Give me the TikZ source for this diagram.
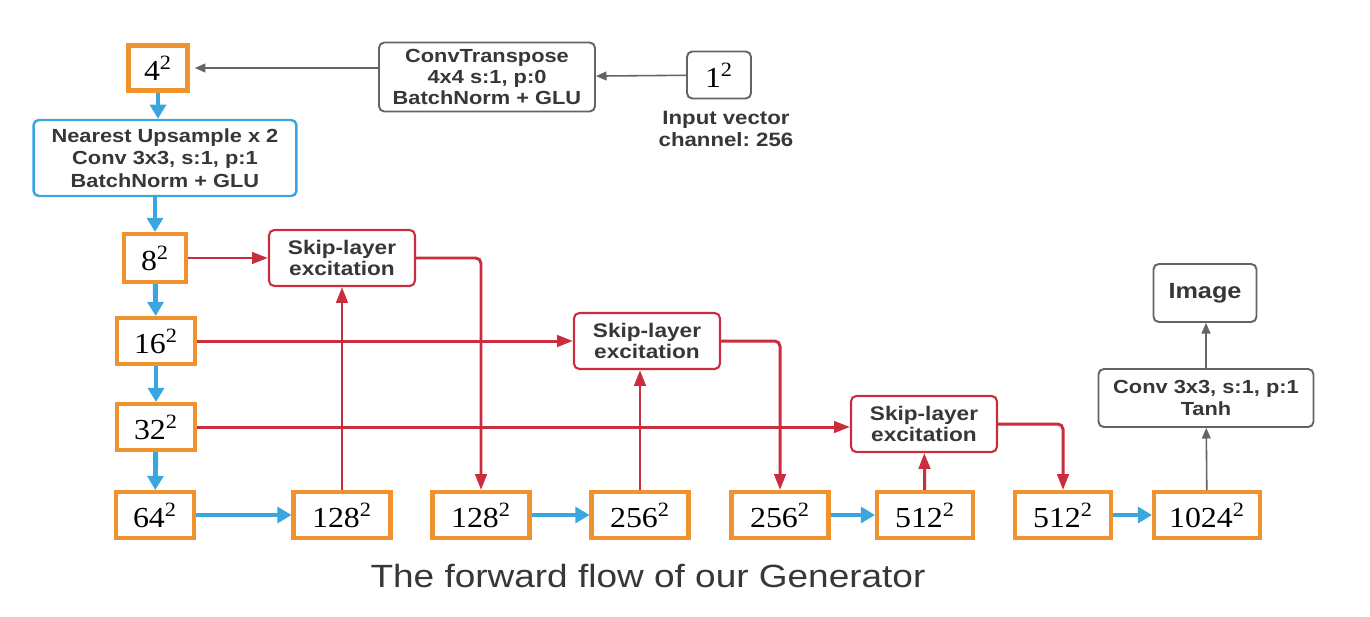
\documentclass[tikz,border=0pt]{standalone}
\usepackage{fontspec}
\setmainfont{Liberation Serif}[FakeStretch=1.1]
\newfontfamily\labelfont{Liberation Sans}[FakeStretch=1.15]
\usetikzlibrary{arrows.meta, positioning}
\definecolor{featOrange}{RGB}{240,146,46}
\definecolor{flowBlue}{RGB}{58,166,224}
\definecolor{skipRed}{RGB}{201,45,62}
\definecolor{opGray}{RGB}{100,100,100}
\definecolor{textGray}{RGB}{55,55,55}
\frenchspacing

\begin{document}
\begin{tikzpicture}[x=0.02cm, y=-0.02cm,
    featbox/.style={rectangle, draw=featOrange, line width=2.3pt, fill=white, minimum height=0.92cm, inner sep=0pt, font=\fontsize{16.5}{19}\selectfont},
    opbox/.style={rectangle, rounded corners=3pt, draw=opGray, line width=1.1pt, align=center, text=textGray},
    upbox/.style={rectangle, rounded corners=3pt, draw=flowBlue, line width=1.4pt, align=center, text=textGray, minimum width=5.26cm, minimum height=1.52cm, font=\labelfont\bfseries\fontsize{10.8}{12.8}\selectfont},
    skipbox/.style={rectangle, rounded corners=3pt, draw=skipRed, line width=1.2pt, align=center, text=textGray, minimum width=2.92cm, minimum height=1.12cm, font=\labelfont\bfseries\fontsize{11.2}{11.9}\selectfont},
    blueflow/.style={draw=flowBlue, line width=2.8pt, -{Triangle[length=8pt,width=9pt]}},
    redflow/.style={draw=skipRed, line width=1.7pt, rounded corners=3pt, -{Triangle[length=9pt,width=6.5pt]}},
    grayflow/.style={draw=opGray, line width=0.9pt, -{Triangle[length=6pt,width=5pt]}}
  ]
    \useasboundingbox (0,0) rectangle (1370,616);

    % Input and first layer
    \node[opbox, minimum width=1.28cm, minimum height=0.94cm, font=\fontsize{16.5}{19}\selectfont, text=black] (in1) at (719,75) {1\textsuperscript{2}};
    \node[align=center, text=textGray, font=\labelfont\bfseries\fontsize{11}{12.5}\selectfont] (inlab) at (726,129) {Input vector\\channel: 256};
    \node[opbox, minimum width=4.32cm, minimum height=1.38cm, font=\labelfont\bfseries\fontsize{10.8}{11.9}\selectfont] (convT) at (487,77) {ConvTranspose\\4x4 s:1, p:0\\BatchNorm + GLU};
    \node[featbox, minimum width=1.18cm, minimum height=0.9cm] (f4) at (158,68) {4\textsuperscript{2}};

    % Upsampling block
    \node[upbox] (ups) at (165,158) {Nearest Upsample x 2\\Conv 3x3, s:1, p:1\\BatchNorm + GLU};

    % Left column
    \node[featbox, minimum width=1.24cm, minimum height=0.96cm] (f8) at (155,258) {8\textsuperscript{2}};
    \node[featbox, minimum width=1.56cm] (f16) at (156,341) {16\textsuperscript{2}};
    \node[featbox, minimum width=1.56cm] (f32) at (156,427) {32\textsuperscript{2}};
    \node[featbox, minimum width=1.56cm] (f64) at (155,515) {64\textsuperscript{2}};

    % Bottom row
    \node[featbox, minimum width=1.94cm] (f128a) at (342,515) {128\textsuperscript{2}};
    \node[featbox, minimum width=1.94cm] (f128b) at (481,515) {128\textsuperscript{2}};
    \node[featbox, minimum width=1.94cm] (f256a) at (640,515) {256\textsuperscript{2}};
    \node[featbox, minimum width=1.94cm] (f256b) at (780,515) {256\textsuperscript{2}};
    \node[featbox, minimum width=1.92cm] (f512a) at (925,515) {512\textsuperscript{2}};
    \node[featbox, minimum width=1.92cm] (f512b) at (1063,515) {512\textsuperscript{2}};
    \node[featbox, minimum width=2.12cm] (f1024) at (1207,515) {1024\textsuperscript{2}};

    % Skip-layer excitation blocks
    \node[skipbox] (skip1) at (342,258) {Skip-layer\\excitation};
    \node[skipbox] (skip2) at (647,341) {Skip-layer\\excitation};
    \node[skipbox] (skip3) at (924,424) {Skip-layer\\excitation};

    % Output head
    \node[opbox, minimum width=4.3cm, minimum height=1.16cm, font=\labelfont\bfseries\fontsize{10.8}{13}\selectfont] (tanh) at (1206,398) {Conv 3x3, s:1, p:1\\Tanh};
    \node[opbox, minimum width=2.06cm, minimum height=1.16cm, font=\labelfont\bfseries\fontsize{12.5}{15}\selectfont] (img) at (1205,293) {Image};

    % Title
    \node[text=textGray, font=\labelfont\fontsize{18.3}{22}\selectfont] (title) at (648,576) {The forward flow of our Generator};

    % Gray connectors
    \draw[grayflow] (in1) -- (convT);
    \draw[grayflow, shorten >=3pt] (convT.west |- f4.east) -- (f4.east);
    \draw[grayflow] (f1024) -- (tanh);
    \draw[grayflow] (tanh.north) -- (tanh.north |- img.south);

    % Blue main flow
    \draw[blueflow] (f4.south) -- (f4.south |- ups.north);
    \draw[blueflow] (ups.south -| f8.north) -- (f8.north);
    \draw[blueflow] (f8) -- (f16);
    \draw[blueflow] (f16) -- (f32);
    \draw[blueflow] (f32) -- (f64);
    \draw[blueflow] (f64) -- (f128a);
    \draw[blueflow] (f128b) -- (f256a);
    \draw[blueflow] (f256b) -- (f512a);
    \draw[blueflow] (f512b) -- (f1024);

    % Red skip connections
    \draw[redflow] (f8) -- (skip1);
    \draw[redflow] (f16) -- (skip2);
    \draw[redflow] (f32.east) -- (f32.east -| skip3.west);
    \draw[redflow] (f128a) -- (skip1);
    \draw[redflow] (f256a.north) -- (f256a.north |- skip2.south);
    \draw[redflow] (f512a) -- (skip3);
    \draw[redflow] (skip1.east) -| (f128b.north);
    \draw[redflow] (skip2.east) -| (f256b.north);
    \draw[redflow] (skip3.east) -| (f512b.north);

\end{tikzpicture}
\end{document}
